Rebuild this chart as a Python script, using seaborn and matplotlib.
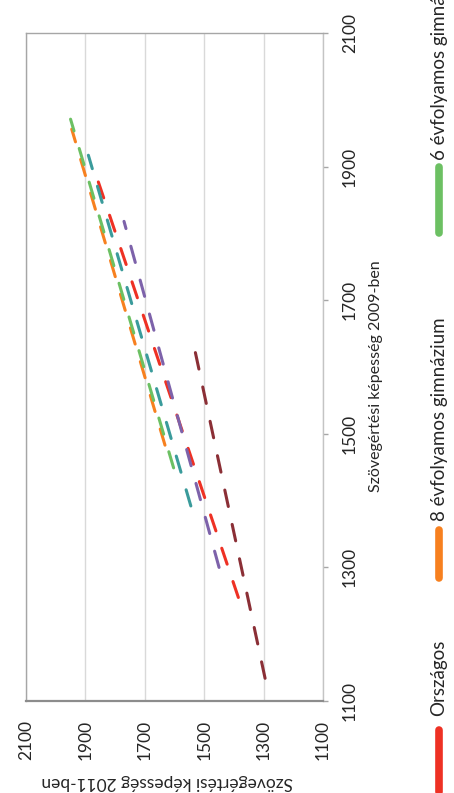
import matplotlib
matplotlib.use("Agg")
import matplotlib.pyplot as plt
from matplotlib.lines import Line2D
import pandas as pd
import seaborn as sns

# Reading-comprehension scores: each school type's trend between 2009 and 2011
series = ["Országos", "8 évfolyamos gimnázium", "6 évfolyamos gimnázium",
          "4 évfolyamos gimnázium", "Szakközépiskola", "Szakiskola"]
colors = ["#ee3124", "#f7801f", "#6cc063", "#3a9b9b", "#7d62aa", "#8b2f36"]
score_2009 = [[1255, 1887], [1483, 1956], [1449, 1971],
              [1392, 1917], [1300, 1818], [1134, 1643]]
score_2011 = [[1385, 1864], [1632, 1946], [1603, 1950],
              [1545, 1890], [1450, 1770], [1295, 1540]]
ticks = [1100, 1300, 1500, 1700, 1900, 2100]
legend_shown = series[:3]

rows = []
for name, xs, ys in zip(series, score_2009, score_2011):
    for a, b in zip(xs, ys):
        rows.append({"series": name, "y2009": a, "y2011": b})
df = pd.DataFrame(rows)

sns.set_style("white")
plt.rcParams["font.family"] = ["Lato", "DejaVu Sans"]

W, H = 454, 793
fig = plt.figure(figsize=(W / 100, H / 100), dpi=100)
ax = fig.add_axes([26 / W, (H - 701) / H, 297 / W, 668 / H])

palette = dict(zip(series, colors))
dashes = {s: (5.5, 6.0) for s in series}
sns.lineplot(data=df, x="y2011", y="y2009", hue="series", style="series",
             palette=palette, dashes=dashes, linewidth=2.2, sort=False,
             legend=False, ax=ax)
for ln in ax.lines:
    ln.set_dash_capstyle("round")
    ln.set_solid_capstyle("round")

# Chart is laid out turned on its side: 2011 runs right-to-left, 2009 bottom-to-top
ax.set_xlim(2100, 1100)
ax.set_ylim(1100, 2100)
ax.set_xticks(ticks)
ax.set_yticks(ticks)
ax.set_xlabel("")
ax.set_ylabel("")
ax.xaxis.grid(True, color="#d9d9d9", linewidth=1.0)
ax.yaxis.grid(False)
ax.yaxis.tick_right()

ax.spines["left"].set_color("#a6a6a6")
ax.spines["top"].set_color("#a6a6a6")
ax.spines["right"].set_color("#c4c4c4")
ax.spines["bottom"].set_color("#8c8c8c")
for sp in ax.spines.values():
    sp.set_linewidth(1.0)
ax.spines["bottom"].set_linewidth(1.6)

ax.tick_params(axis="x", direction="out", length=7.5, width=1.0, color="#c8c8c8",
               pad=6, labelsize=12.5, labelrotation=90)
ax.tick_params(axis="y", direction="out", length=3.6, width=1.0, color="#a6a6a6",
               pad=10, labelsize=12.5, labelrotation=90, right=True, left=False)
for lab in ax.get_yticklabels():
    lab.set_va("center")
    lab.set_ha("left")

fig.text(167 / W, (H - 782) / H, "Szövegértési képesség 2011-ben",
         rotation=180, ha="center", va="center", fontsize=12.5)
fig.text(376 / W, (H - 376) / H, "Szövegértési képesség 2009-ben",
         rotation=90, ha="center", va="center", fontsize=11.5)

# Legend entries, stacked upward along the right edge
marker_bottoms = [792, 578, 233]
marker_tops = [730, 530, 167]
text_starts = [716, 521, 160]
lx = 439
for name, yb, yt, ts in zip(legend_shown, marker_bottoms, marker_tops, text_starts):
    fig.add_artist(Line2D([lx / W, lx / W], [(H - yb) / H, (H - yt) / H],
                          transform=fig.transFigure, color=palette[name],
                          linewidth=5.5, solid_capstyle="round"))
    fig.text(lx / W, (H - ts) / H, name, rotation=90, ha="center", va="bottom",
             fontsize=13.5)

fig.savefig("out.png", dpi=100)
